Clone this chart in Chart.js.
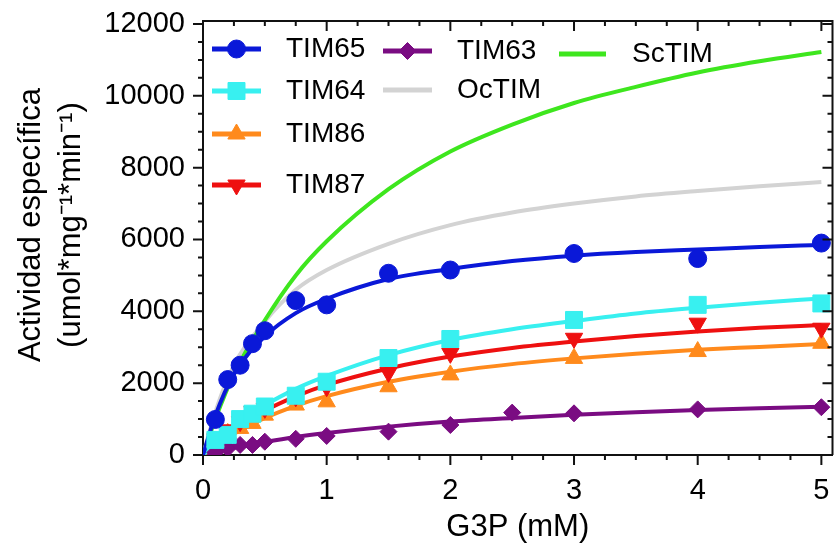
<!DOCTYPE html>
<html>
<head>
<meta charset="utf-8">
<script src="https://cdn.jsdelivr.net/npm/chart.js@4.4.0/dist/chart.umd.min.js"></script>
<style>
  html, body { margin: 0; padding: 0; background: #fff; }
  canvas { display: block; }
</style>
</head>
<body>
<canvas id="kinetics" width="836" height="548"></canvas>
<script>
// fitted curves
const fitX     = [0, 0.1, 0.25, 0.5, 0.75, 1, 1.5, 2, 2.5, 3, 3.5, 4, 4.5, 5];
const fitTIM65 = [0, 1100, 2250, 3300, 3950, 4350, 4900, 5180, 5400, 5550, 5650, 5720, 5790, 5850];
const fitTIM64 = [0, 330, 780, 1380, 1840, 2200, 2780, 3200, 3500, 3730, 3940, 4100, 4240, 4360];
const fitTIM86 = [0, 260, 590, 1030, 1370, 1640, 2040, 2320, 2530, 2690, 2820, 2930, 3010, 3090];
const fitTIM87 = [0, 310, 710, 1230, 1630, 1950, 2410, 2740, 2980, 3160, 3310, 3440, 3540, 3620];
const fitTIM63 = [0, 90, 200, 360, 500, 610, 790, 930, 1030, 1120, 1190, 1250, 1300, 1345];
const fitOcTIM = [0, 1200, 2500, 3720, 4600, 5150, 5880, 6400, 6750, 7000, 7200, 7350, 7480, 7600];
const fitScTIM = [0, 1000, 2250, 3750, 5000, 5950, 7400, 8450, 9200, 9800, 10250, 10650, 10960, 11220];

// measured points
const obsX     = [0.1, 0.2, 0.3, 0.4, 0.5, 0.75, 1, 1.5, 2, 3, 4, 5];
const obsTIM65 = [990, 2100, 2500, 3100, 3460, 4300, 4180, 5060, 5150, 5610, 5470, 5900];
const obsTIM64 = [420, 560, 1000, 1150, 1350, 1650, 2040, 2700, 3230, 3760, 4180, 4220];
const obsTIM86 = [370, 600, 740, 880, 1110, 1390, 1480, 1900, 2230, 2690, 2880, 3110];
const obsTIM87 = [450, 700, 930, 1210, 1300, 1620, 1900, 2300, 2830, 3250, 3670, 3530];
const obsX63   = [0.1, 0.2, 0.3, 0.4, 0.5, 0.75, 1, 1.5, 2, 2.5, 3, 4, 5];
const obsTIM63 = [70, 185, 280, 280, 370, 450, 530, 650, 835, 1180, 1160, 1270, 1330];

const xTickValues = [0, 1, 2, 3, 4, 5];
const yTickValues = [0, 2000, 4000, 6000, 8000, 10000, 12000];

const colors = {
  TIM65: '#0a18d8', TIM64: '#38f0f0', TIM86: '#ff8a1c', TIM87: '#ee1010',
  TIM63: '#7a0c82', OcTIM: '#d3d3d3', ScTIM: '#3ee61e'
};
const markers = {
  TIM65: {pointStyle: 'circle', radius: 9},
  TIM64: {pointStyle: 'rect', radius: 12},
  TIM86: {pointStyle: 'triangle', radius: 10},
  TIM87: {pointStyle: 'triangle', radius: 10, rotation: 180},
  TIM63: {pointStyle: 'rectRot', radius: 8.5}
};

function pts(xs, ys) { return xs.map((v, i) => ({x: v, y: ys[i]})); }

function curve(name, ys) {
  return {
    label: name + ' fit', data: pts(fitX, ys), showLine: true,
    borderColor: colors[name], borderWidth: 4, pointRadius: 0,
    cubicInterpolationMode: 'monotone', fill: false
  };
}
function points(name, xs, ys) {
  const m = markers[name];
  return {
    label: name, data: pts(xs, ys), showLine: false,
    pointStyle: m.pointStyle, pointRadius: m.radius, pointRotation: m.rotation || 0,
    pointBackgroundColor: colors[name], pointBorderColor: colors[name], pointBorderWidth: 1
  };
}

// no extra room for labels, the chart area is fixed by layout padding
function noLabelPadding(s) {
  s.paddingTop = 0; s.paddingBottom = 0; s.paddingLeft = 0; s.paddingRight = 0;
}

// legend placement (px, relative to chart area)
const legendCols = [{x0: 9, x1: 58, tx: 83}, {x0: 180, x1: 229, tx: 254}, {x0: 356, x1: 403, tx: 429}];
const legendItems = [
  {name: 'TIM65', col: 0, dy: 28}, {name: 'TIM64', col: 0, dy: 70},
  {name: 'TIM86', col: 0, dy: 113}, {name: 'TIM87', col: 0, dy: 164},
  {name: 'TIM63', col: 1, dy: 30}, {name: 'OcTIM', col: 1, dy: 69},
  {name: 'ScTIM', col: 2, dy: 33}
];

const frameAndLegend = {
  id: 'frameAndLegend',
  afterDraw(chart) {
    const {ctx, chartArea: a, scales: {x, y}} = chart;
    ctx.save();
    ctx.strokeStyle = '#111';
    ctx.lineWidth = 2;
    ctx.beginPath();
    ctx.moveTo(a.left, a.top); ctx.lineTo(a.right, a.top); ctx.lineTo(a.right, a.bottom);
    for (let v = 0; v <= 5.001; v += 0.25) {
      const px = x.getPixelForValue(v);
      const len = Math.abs(v - Math.round(v)) < 1e-6 ? 10 : 5;
      ctx.moveTo(px, a.bottom); ctx.lineTo(px, a.bottom + len);
      ctx.moveTo(px, a.top); ctx.lineTo(px, a.top + len);
    }
    for (let v = 0; v <= 12000; v += 500) {
      const py = y.getPixelForValue(v);
      const len = v % 2000 === 0 ? 10 : 5;
      ctx.moveTo(a.left - len, py); ctx.lineTo(a.left, py);
      ctx.moveTo(a.right - len, py); ctx.lineTo(a.right, py);
    }
    ctx.stroke();

    ctx.font = "28px 'Liberation Sans', Arial, sans-serif";
    ctx.textBaseline = 'middle';
    ctx.textAlign = 'left';
    legendItems.forEach(it => {
      const c = legendCols[it.col];
      const yy = a.top + it.dy;
      const x0 = a.left + c.x0, x1 = a.left + c.x1;
      ctx.strokeStyle = colors[it.name];
      ctx.lineWidth = 5;
      ctx.beginPath(); ctx.moveTo(x0, yy); ctx.lineTo(x1, yy); ctx.stroke();
      const m = markers[it.name];
      if (m) {
        ctx.fillStyle = colors[it.name];
        ctx.lineWidth = 1;
        Chart.helpers.drawPoint(ctx, {pointStyle: m.pointStyle, radius: m.radius, rotation: m.rotation || 0, borderWidth: 1}, (x0 + x1) / 2, yy);
      }
      ctx.fillStyle = '#000';
      ctx.fillText(it.name, a.left + c.tx, yy);
    });
    ctx.restore();
  }
};

Chart.defaults.font.family = "'Liberation Sans', Arial, sans-serif";
Chart.defaults.color = '#000';

new Chart(document.getElementById('kinetics').getContext('2d'), {
  type: 'scatter',
  data: {
    datasets: [
      points('TIM65', obsX, obsTIM65),
      points('TIM64', obsX, obsTIM64),
      points('TIM87', obsX, obsTIM87),
      points('TIM86', obsX, obsTIM86),
      points('TIM63', obsX63, obsTIM63),
      curve('TIM65', fitTIM65),
      curve('TIM64', fitTIM64),
      curve('TIM87', fitTIM87),
      curve('TIM86', fitTIM86),
      curve('TIM63', fitTIM63),
      curve('ScTIM', fitScTIM),
      curve('OcTIM', fitOcTIM)
    ]
  },
  options: {
    responsive: false,
    animation: false,
    layout: { autoPadding: false, padding: {left: 0, right: 3.5, top: 21, bottom: 0} },
    plugins: { legend: {display: false}, tooltip: {enabled: false} },
    scales: {
      x: {
        type: 'linear', min: 0, max: 5.09,
        afterBuildTicks: s => { s.ticks = xTickValues.map(v => ({value: v})); },
        afterFit: s => { s.height = 93; noLabelPadding(s); },
        grid: {display: false, drawTicks: false},
        border: {display: true, color: '#111', width: 2},
        ticks: {font: {size: 29}, padding: 19, callback: v => String(v), maxRotation: 0},
        title: {display: true, text: 'G3P (mM)', font: {size: 31}, padding: {top: 4, bottom: 2}}
      },
      y: {
        type: 'linear', min: 0, max: 12083,
        afterBuildTicks: s => { s.ticks = yTickValues.map(v => ({value: v})); },
        afterFit: s => { s.width = 203; noLabelPadding(s); },
        grid: {display: false, drawTicks: false},
        border: {display: true, color: '#111', width: 2},
        ticks: {font: {size: 29}, padding: 18, callback: v => String(v)},
        title: {
          display: true,
          text: ['   Actividad específica', '   (umol*mg⁻¹*min⁻¹)'],
          font: {size: 31, lineHeight: 1.3},
          padding: {top: 11, bottom: 0}
        }
      }
    }
  },
  plugins: [frameAndLegend]
});
</script>
</body>
</html>
